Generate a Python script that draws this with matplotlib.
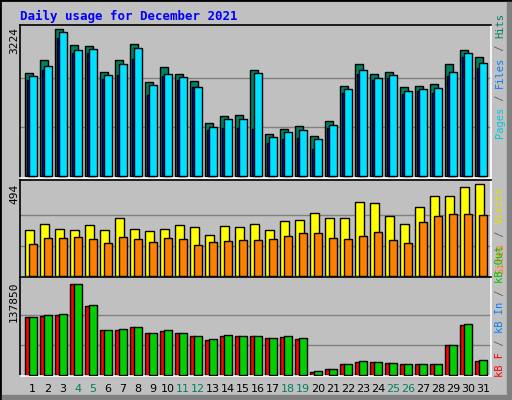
import matplotlib
matplotlib.use("Agg")
import matplotlib.pyplot as plt
from matplotlib.patches import Rectangle
import numpy as np

days = list(range(1, 32))
weekend_days = [4, 5, 11, 12, 18, 19, 25, 26]

hits = [2259, 2544, 3224, 2873, 2851, 2288, 2544, 2902, 2061, 2390, 2237, 2091, 1162, 1316, 1338, 2325,
        921, 1031, 1097, 877, 1206, 1974, 2456, 2237, 2288, 1952, 1974, 2018, 2456, 2763, 2610]
files = [2113, 2325, 3027, 2697, 2697, 2127, 2215, 2566, 1776, 2193, 2105, 1952, 1009, 1053, 1053, 1031,
         724, 811, 833, 592, 1053, 1820, 2237, 2105, 2149, 1798, 1864, 1820, 2193, 2610, 2368]
pages = [2193, 2412, 3158, 2763, 2785, 2215, 2456, 2807, 1996, 2237, 2171, 1952, 1075, 1250, 1250, 2259,
         855, 965, 1009, 811, 1118, 1908, 2325, 2149, 2215, 1864, 1908, 1930, 2281, 2697, 2478]

visits = [247, 279, 252, 247, 274, 247, 311, 252, 242, 252, 274, 263, 220, 268, 263, 279,
          247, 295, 301, 338, 311, 311, 397, 392, 322, 279, 370, 429, 429, 478, 494]
sites = [172, 204, 204, 209, 199, 177, 209, 199, 183, 204, 199, 166, 183, 188, 193, 193,
         199, 215, 231, 231, 204, 199, 215, 236, 193, 177, 290, 322, 333, 333, 328]

kb_in = [87870, 90900, 92400, 137850, 106050, 68175, 69690, 72720, 63630, 68175, 63630, 59085, 54540,
         60600, 59085, 59085, 56055, 59085, 56055, 6060, 9090, 16665, 21210, 19695, 18180, 16665,
         16665, 16665, 45450, 77265, 22725]
kb_f = [87870, 89385, 90900, 137850, 104535, 68175, 68175, 72720, 63630, 66660, 63630, 59085, 53025,
        59085, 59085, 59085, 56055, 57570, 54540, 4545, 9090, 16665, 19695, 19695, 18180, 16665,
        16665, 16665, 45450, 75750, 21210]

GRAY = "#C0C0C0"
W, H = 512, 400
fig = plt.figure(figsize=(W / 100, H / 100), dpi=100)
fig.patch.set_facecolor(GRAY)
renderer = fig.canvas.get_renderer()

# outer frame with shadow
fig.patches.append(Rectangle((0, 0), 1, 1, transform=fig.transFigure, fill=False,
                             edgecolor="black", linewidth=2))
fig.patches.append(Rectangle((2 / W, 1 / H), 1 - 3 / W, 4 / H, transform=fig.transFigure,
                             color="#808080"))
fig.patches.append(Rectangle((1 - 5 / W, 1 / H), 4 / W, 1 - 3 / H, transform=fig.transFigure,
                             color="#808080"))

FONT = "DejaVu Sans Mono"
fig.text(20 / W, 1 - 16 / H, "Daily usage for December 2021", color="#0000FF",
         fontsize=9, fontweight="bold", family=FONT, va="center")


def make_ax(top, bottom):
    ax = fig.add_axes([20 / W, 1 - bottom / H, 471 / W, (bottom - top) / H])
    ax.set_facecolor(GRAY)
    ax.set_xlim(-0.353, 31.047)
    ax.set_xticks([])
    ax.set_yticks([])
    ax.spines["left"].set_color("black")
    ax.spines["top"].set_color("black")
    ax.spines["right"].set_color("white")
    ax.spines["bottom"].set_color("white")
    for s in ax.spines.values():
        s.set_linewidth(1.2)
    return ax


def grid(ax, vmax):
    for f in (1 / 3, 2 / 3):
        ax.axhline(vmax * f, color="#808080", linewidth=1, zorder=0)


def bars(ax, vals, x0, x1, color, z):
    x = np.arange(31) + x0
    ax.bar(x, vals, width=x1 - x0, align="edge", color=color, edgecolor="black",
           linewidth=1, zorder=z)


def right_label(parts, y_start):
    # parts stacked bottom to top, rotated
    y = y_start
    for text, color in parts:
        t = fig.text(500 / W, 1 - y / H, text, color=color, rotation=90, fontsize=7.5,
                     family=FONT, ha="center", va="bottom")
        y -= t.get_window_extent(renderer).height


def max_label(text, y_top):
    fig.text(14 / W, 1 - y_top / H, text, rotation=90, fontsize=8, family=FONT,
             ha="center", va="top")


# top panel
ax1 = make_ax(25, 178)
ax1.set_ylim(-44, 3318)
grid(ax1, 3224)
bars(ax1, hits, 0.0, 0.5, "#008060", 2)
bars(ax1, files, 0.13, 0.62, "#0000FF", 3)
bars(ax1, pages, 0.27, 0.76, "#00E0FF", 4)
max_label("3224", 27)
right_label([("Pages", "#00C8E0"), (" / ", "#606060"), ("Files", "#0080FF"),
             (" / ", "#606060"), ("Hits", "#008060")], 138)

# middle panel
ax2 = make_ax(180, 277)
ax2.set_ylim(-4, 517)
grid(ax2, 494)
bars(ax2, visits, 0.0, 0.55, "#FFFF00", 2)
bars(ax2, sites, 0.27, 0.76, "#FF8000", 3)
max_label("494", 184)
right_label([("Sites", "#FF8000"), (" / ", "#606060"), ("Visits", "#E0E000")], 274)

# bottom panel
ax3 = make_ax(277, 376)
ax3.set_ylim(-1060, 148900)
grid(ax3, 137850)
bars(ax3, kb_f, 0.0, 0.31, "#FF0000", 2)
bars(ax3, kb_in, 0.27, 0.76, "#00D000", 3)
max_label("137850", 282)
right_label([("kB F", "#FF0000"), (" / ", "#606060"), ("kB In", "#0080FF"),
             (" / ", "#606060"), ("kB Out", "#00C000")], 377)

# day labels
for i, d in enumerate(days):
    xd = ax3.transData.transform((i + 0.5, 0))[0]
    color = "#008060" if d in weekend_days else "black"
    fig.text(xd / fig.dpi / fig.get_figwidth(), 1 - 389 / H, str(d), color=color,
             fontsize=8, ha="center", va="center")

fig.savefig("out.png", dpi=100, facecolor=GRAY)
